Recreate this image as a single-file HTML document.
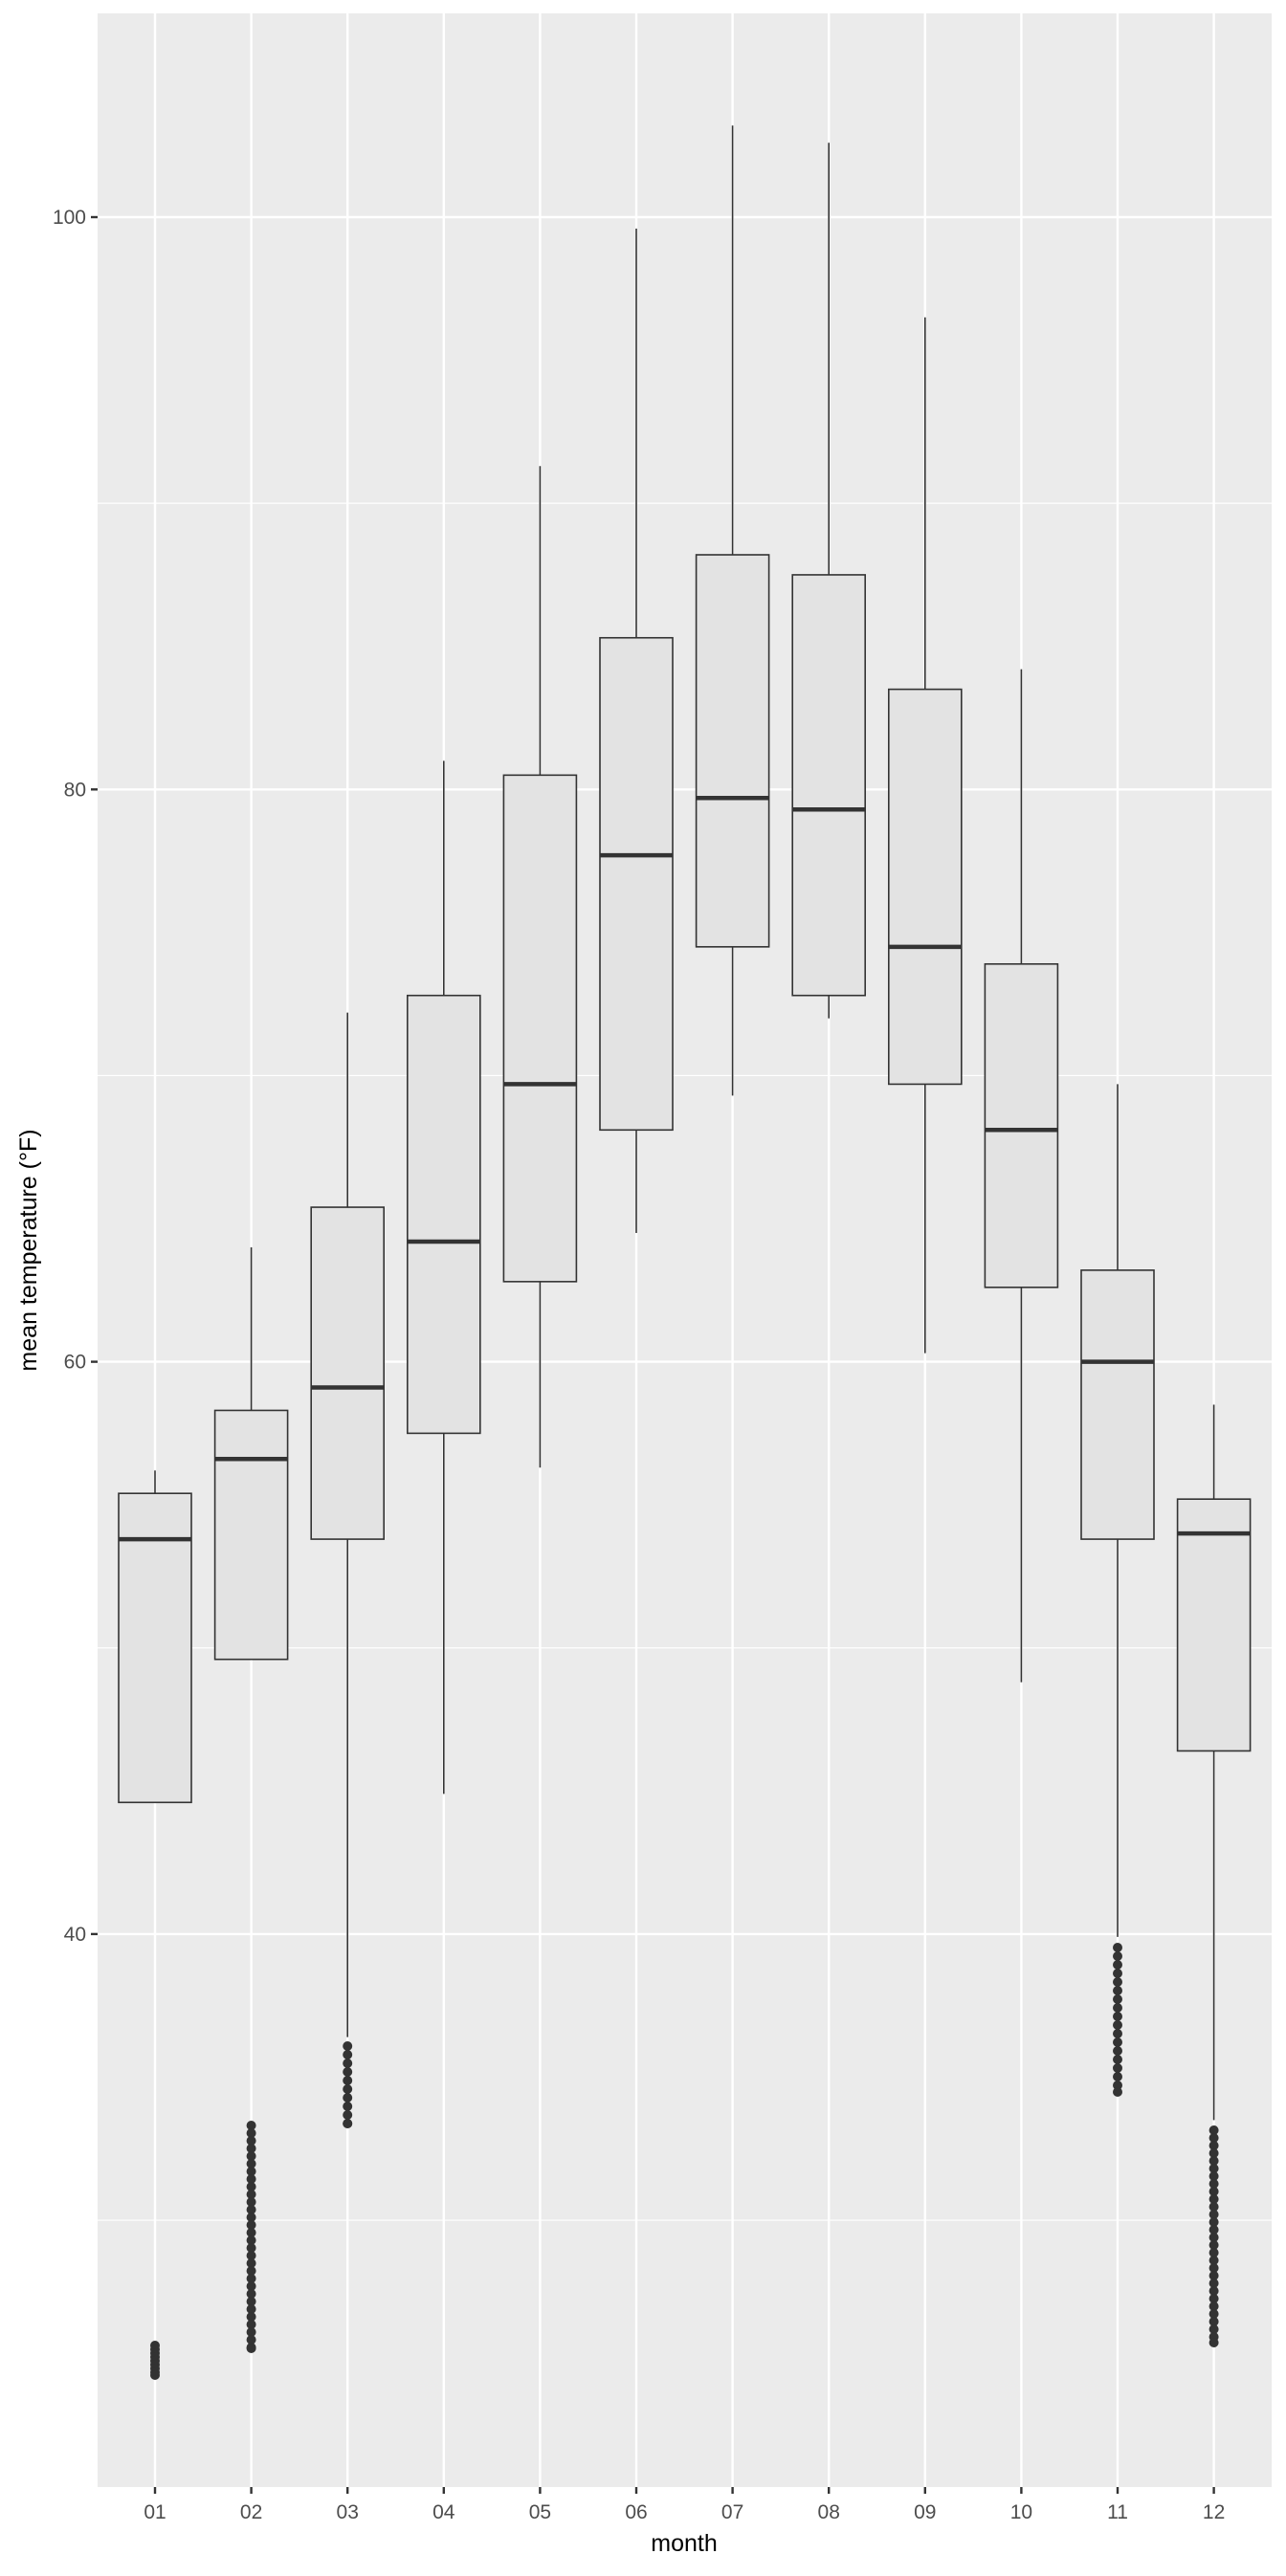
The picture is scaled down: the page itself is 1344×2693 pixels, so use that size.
<!DOCTYPE html>
<html><head><meta charset="utf-8"><style>html,body{margin:0;padding:0;background:#fff}</style></head>
<body>
<svg id="s" width="1344" height="2688" xmlns="http://www.w3.org/2000/svg" font-family="Liberation Sans, Arial, sans-serif">
<rect x="102" y="14" width="1227" height="2586" fill="#ebebeb"/>
<g id="grid"></g>
<g id="data"></g>
<g id="axes"></g>
<text x="715" y="2667" font-size="25" text-anchor="middle" fill="#000">month</text>
<text transform="translate(38,1307) rotate(-90)" font-size="25" text-anchor="middle" fill="#000">mean temperature (°F)</text>
</svg>
<script>
var NS="http://www.w3.org/2000/svg";
function Y(v){return 227+(100-v)*29.915;}
function X(i){return 162+(i-1)*100.6;}
function el(p,t,a,txt){var e=document.createElementNS(NS,t);for(var k in a)e.setAttribute(k,a[k]);if(txt!==undefined)e.textContent=txt;document.getElementById(p).appendChild(e);return e;}
// grid
[30,50,70,90].forEach(function(v){el("grid","line",{x1:102,x2:1329,y1:Y(v),y2:Y(v),stroke:"#fff","stroke-width":1.2});});
[40,60,80,100].forEach(function(v){el("grid","line",{x1:102,x2:1329,y1:Y(v),y2:Y(v),stroke:"#fff","stroke-width":2.4});
 el("axes","line",{x1:95,x2:102,y1:Y(v),y2:Y(v),stroke:"#333","stroke-width":2.4});
 el("axes","text",{x:90,y:Y(v)+7,"font-size":21,"text-anchor":"end",fill:"#4d4d4d"},String(v));});
for(var i=1;i<=12;i++){el("grid","line",{x1:X(i),x2:X(i),y1:14,y2:2600,stroke:"#fff","stroke-width":2.4});
 el("axes","line",{x1:X(i),x2:X(i),y1:2600,y2:2607,stroke:"#333","stroke-width":2.4});
 el("axes","text",{x:X(i),y:2633,"font-size":21,"text-anchor":"middle",fill:"#4d4d4d"},(i<10?"0":"")+i);}
// data [top,q3,med,q1,low]
var D=[[56.2,55.4,53.8,44.6,44.6],[64.0,58.3,56.6,49.6,49.6],[72.2,65.4,59.1,53.8,36.4],[81.0,72.8,64.2,57.5,44.9],
[91.3,80.5,69.7,62.8,56.3],[99.6,85.3,77.7,68.1,64.5],[103.2,88.2,79.7,74.5,69.3],[102.6,87.5,79.3,72.8,72.0],
[96.5,83.5,74.5,69.7,60.3],[84.2,73.9,68.1,62.6,48.8],[69.7,63.2,60.0,53.8,39.9],[58.5,55.2,54.0,46.4,33.5]];
var O={1:[2452,2483,4],2:[2222,2455,8],3:[2139,2220,9],11:[2036,2187,9],12:[2227,2449,8]};
D.forEach(function(d,k){var i=k+1,x=X(i),w=38;
 el("data","line",{x1:x,x2:x,y1:Y(d[0]),y2:Y(d[1]),stroke:"#333","stroke-width":1.6});
 el("data","line",{x1:x,x2:x,y1:Y(d[3]),y2:Y(d[4]),stroke:"#333","stroke-width":1.6});
 el("data","rect",{x:x-w,y:Y(d[1]),width:2*w,height:Y(d[3])-Y(d[1]),fill:"#e3e3e3",stroke:"#333","stroke-width":1.6});
 el("data","line",{x1:x-w,x2:x+w,y1:Y(d[2]),y2:Y(d[2]),stroke:"#333","stroke-width":4.5});
 if(O[i]){var o=O[i];for(var y=o[0];y<=o[1]+0.1;y+=o[2])el("data","circle",{cx:x,cy:y,r:5,fill:"#333"});
  el("data","circle",{cx:x,cy:o[1],r:5,fill:"#333"});}
});
</script>
</body></html>
